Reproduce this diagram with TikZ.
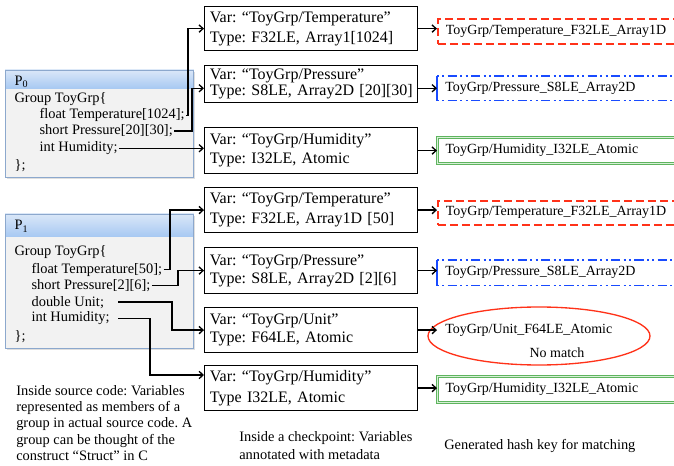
\documentclass[tikz,border=0pt]{standalone}
\usepackage{fontspec}
\setmainfont{Liberation Serif}
\usetikzlibrary{arrows.meta,calc,shapes.geometric,shadows}
\definecolor{hdrtop}{RGB}{218,231,248}
\definecolor{hdrbot}{RGB}{166,200,242}
\definecolor{pborder}{RGB}{140,168,205}
\definecolor{pfill}{RGB}{242,242,242}
\definecolor{kred}{RGB}{255,50,25}
\definecolor{kblue}{RGB}{25,75,255}
\definecolor{kgreen}{RGB}{95,180,95}
\definecolor{kgreenlt}{RGB}{215,240,215}
\lineskiplimit=-6pt
\frenchspacing
\begin{document}
\begin{tikzpicture}[x=0.75pt,y=-0.75pt,
  conn/.style={line width=1pt,-{Straight Barb[length=3pt,width=5.5pt]}},
  mbox/.style={draw,line width=0.9pt,anchor=north west,inner xsep=4pt,inner ysep=0pt,text width=151.75pt,align=left},
  mfont/.style={font=\fontsize{12pt}{#1 pt}\selectfont},
  src/.style={anchor=base west,inner sep=1pt,font=\fontsize{10.8pt}{12pt}\selectfont},
  pbox/.style={draw=pborder,fill=pfill,line width=0.6pt,anchor=north west,minimum width=141pt,inner sep=0pt,drop shadow={opacity=0.25,shadow xshift=1.2pt,shadow yshift=-1.2pt}},
  hkey/.style={anchor=north west,inner xsep=6pt,inner ysep=0pt,text width=177.75pt,align=left,font=\fontsize{10.5pt}{12pt}\selectfont},
  redkey/.style={hkey,draw=kred,line width=1.3pt,dash pattern=on 6pt off 3pt},
  bluekey/.style={hkey},
  bluedash/.style={draw=kblue,line width=1.3pt,dash pattern=on 1.5pt off 2.5pt on 1.5pt off 2.5pt on 7pt off 2.5pt},
  greenkey/.style={hkey,draw=kgreen,double=kgreenlt,line width=0.8pt,double distance=0.8pt},
  note/.style={anchor=north west,inner sep=0pt,align=left,font=\fontsize{10.8pt}{#1 pt}\selectfont},
]
\useasboundingbox (0,0) rectangle (674,466);
\clip (0,0) rectangle (674,466);

% ---------- source boxes ----------
\node[pbox,minimum height=80.25pt] (p0) at (5,70) {};
\shade[top color=hdrtop,bottom color=hdrbot] (p0.north west) rectangle ($(p0.north east)+(0,19)$);
\draw[pborder,line width=0.6pt] (p0.north west) rectangle (p0.south east);
\node[src] (pt0) at (13,85.5) {P\textsubscript{0}};
\node[src] (g0) at (13,102.7) {Group ToyGrp\{};
\node[src] (t01) at (38,119) {float Temperature[1024];};
\node[src] (t02) at (38,135) {short Pressure[20][30];};
\node[src] (t03) at (38,151.7) {int Humidity;};
\node[src] (c0) at (13,170) {\};};

\node[pbox,minimum height=100.5pt] (p1) at (5,214) {};
\shade[top color=hdrtop,bottom color=hdrbot] (p1.north west) rectangle ($(p1.north east)+(0,23)$);
\draw[pborder,line width=0.6pt] (p1.north west) rectangle (p1.south east);
\node[src] (pt1) at (13,230) {P\textsubscript{1}};
\node[src] (g1) at (13,256) {Group ToyGrp\{};
\node[src] (t11) at (30,273.3) {float Temperature[50];};
\node[src] (t12) at (30,289.3) {short Pressure[2][6];};
\node[src] (t13) at (30,306) {double Unit;};
\node[src] (t14) at (30,321.7) {int Humidity;};
\node[src] (c1) at (13,340) {\};};

% ---------- metadata boxes ----------
\node[mbox,mfont=15,minimum height=33pt] (m1) at (204,6) {Var: “ToyGrp/Temperature”\\Type: F32LE, Array1[1024]};
\node[mbox,mfont=10,minimum height=27.75pt] (m2) at (204,65) {Var: “ToyGrp/Pressure”\\\mbox{Type: S8LE, Array2D [20][30]}};
\node[mbox,mfont=14.25,minimum height=34.5pt] (m3) at (204,127) {Var: “ToyGrp/Humidity”\\Type: I32LE, Atomic};
\node[mbox,mfont=15,minimum height=33.75pt] (m4) at (204,187) {Var: “ToyGrp/Temperature”\\Type: F32LE, Array1D [50]};
\node[mbox,mfont=13.5,minimum height=34.5pt] (m5) at (204,247) {Var: “ToyGrp/Pressure”\\Type: S8LE, Array2D [2][6]};
\node[mbox,mfont=13.5,minimum height=33.75pt] (m6) at (204,307) {Var: “ToyGrp/Unit”\\Type: F64LE, Atomic};
\node[mbox,mfont=15.75,minimum height=33.75pt] (m7) at (204,365) {Var: “ToyGrp/Humidity”\\Type I32LE, Atomic};

% ---------- hash keys ----------
\node[redkey,minimum height=18.75pt] (h1) at (437,18) {ToyGrp/Temperature\_F32LE\_Array1D};
\node[bluekey,minimum height=18pt] (h2) at (437,76) {ToyGrp/Pressure\_S8LE\_Array2D};
\draw[bluedash] (h2.north west) -- (h2.north east);
\draw[bluedash] (h2.south west) -- (h2.south east);
\draw[kblue,line width=1.3pt] (h2.north west) -- (h2.south west);
\node[greenkey,minimum height=19.5pt] (h3) at (437,137) {ToyGrp/Humidity\_I32LE\_Atomic};
\node[redkey,minimum height=18pt] (h4) at (437,200) {ToyGrp/Temperature\_F32LE\_Array1D};
\node[bluekey,minimum height=18.75pt] (h5) at (437,260) {ToyGrp/Pressure\_S8LE\_Array2D};
\draw[bluedash] (h5.north west) -- (h5.north east);
\draw[bluedash] (h5.south west) -- (h5.south east);
\draw[kblue,line width=1.3pt] (h5.north west) -- (h5.south west);
\node[ellipse,draw=kred,line width=1pt,minimum width=166.5pt,minimum height=43.5pt,inner sep=0pt] (e1) at (539,336) {};
\node[anchor=west,inner xsep=6pt,font=\fontsize{10.5pt}{12pt}\selectfont] (u1) at (437,330) {ToyGrp/Unit\_F64LE\_Atomic};
\node[font=\fontsize{10.5pt}{12pt}\selectfont] (nm) at (557,353) {No match};
\node[greenkey,minimum height=19.5pt] (h7) at (437,376) {ToyGrp/Humidity\_I32LE\_Atomic};

% ---------- notes ----------
\node[note=12.2] (n1) at (16,385) {Inside source code: Variables\\represented as members of a\\group in actual source code. A\\group can be thought of the\\construct “Struct” in C};
\node[note=13.5] (n2) at (239,431) {Inside a checkpoint: Variables\\annotated with metadata};
\node[note=12] (n3) at (444,439) {Generated hash key for matching};

% ---------- connectors ----------
\coordinate (x188) at (188,0);
\coordinate (x192) at (192,0);
\coordinate (x170) at (170,0);
\coordinate (x178) at (178,0);
\coordinate (x172) at (172,0);
\coordinate (x150) at (150,0);
\coordinate (x118) at (118,0);
\draw[conn] (t01.east) -| (x188 |- m1.west) -- (m1.west);
\draw[conn] (t02.east) -| (x192 |- h2.west) -- (h2.west -| m2.west);
\draw[conn] (t03.east) -- (t03.east -| m3.west);
\draw[conn] (t11.east) -| (x170 |- m4.west) -- (m4.west);
\draw[conn] (t12.east) -| (x178 |- m5.west) -- (m5.west);
\draw[conn] (t13.east -| x118) -| (x172 |- m6.west) -- (m6.west);
\draw[conn] (t14.east -| x118) -| ($(x150 |- m7.north west)+(0,10)$) -- ($(m7.north west)+(0,10)$);

\draw[conn] (m1.east) -- (m1.east -| h1.west);
\draw[conn] (h2.west -| m2.east) -- (h2.west);
\draw[conn] (m3.east) -- (m3.east -| h3.west);
\draw[conn] (m4.east) -- (m4.east -| h4.west);
\draw[conn] (m5.east) -- (m5.east -| h5.west);
\draw[conn] (m6.east) -- (m6.east -| u1.west);
\draw[conn] (m7.east) -- (m7.east -| h7.west);
\end{tikzpicture}
\end{document}
